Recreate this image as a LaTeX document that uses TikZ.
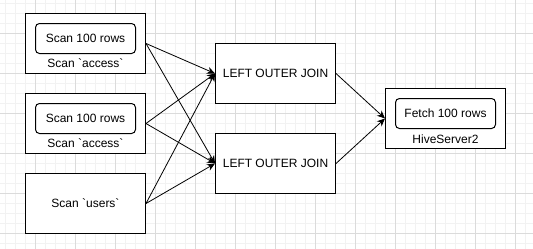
\documentclass[tikz,border=0pt]{standalone}
\usepackage{fontspec}
\setmainfont{Liberation Sans}[Ligatures=TeXOff]
\usetikzlibrary{arrows.meta}
\begin{document}
\begin{tikzpicture}[x=1pt,y=-1pt,
  box/.style={draw=black,line width=1pt,minimum width=120pt,minimum height=60pt,inner sep=0pt,fill=white},
  inbox/.style={draw=black,line width=1pt,rounded corners=4pt,minimum width=100pt,minimum height=30pt,inner sep=0pt,fill=white},
  lbl/.style={inner sep=0pt,font=\fontsize{12pt}{14pt}\selectfont},
  conn/.style={draw=black,line width=0.8pt,-{Stealth[length=8pt,width=7pt]}}]
\useasboundingbox (0,0) rectangle (533,249);
\fill[white] (0,0) rectangle (533,249);
% minor grid
\foreach \x in {5,15,...,525} \draw[color=black!5,line width=0.8pt] (\x,0) -- (\x,249);
\foreach \y in {3.5,13.5,...,243.5} \draw[color=black!5,line width=0.8pt] (0,\y) -- (533,\y);
% major grid
\foreach \x in {35,75,...,515} \draw[color=black!14,line width=0.8pt] (\x,0) -- (\x,249);
\foreach \y in {33.5,73.5,...,233.5} \draw[color=black!14,line width=0.8pt] (0,\y) -- (533,\y);

\node[box] (s1) at (85.5,43.5) {};
\node[inbox] (s1i) at (85.5,38.5) {};
\node[lbl] (s1t) at (85.5,38.5) {Scan 100 rows};
\node[lbl] (s1l) at (85.5,63.5) {Scan `access`};

\node[box] (s2) at (85.5,123.5) {};
\node[inbox] (s2i) at (85.5,118.5) {};
\node[lbl] (s2t) at (85.5,118.5) {Scan 100 rows};
\node[lbl] (s2l) at (85.5,143.5) {Scan `access`};

\node[box] (s3) at (85.5,203.5) {};
\node[lbl] (s3t) at (85.5,203.5) {Scan `users`};

\node[box] (j1) at (275.5,73.5) {};
\node[lbl] (j1t) at (275.5,73.5) {LEFT OUTER JOIN};
\node[box] (j2) at (275.5,163.5) {};
\node[lbl] (j2t) at (275.5,163.5) {LEFT OUTER JOIN};

\node[box] (h) at (445.5,118.5) {};
\node[inbox] (hi) at (445.5,113.5) {};
\node[lbl] (ht) at (445.5,113.5) {Fetch 100 rows};
\node[lbl] (hl) at (445.5,139.5) {HiveServer2};

\foreach \s in {s1,s2,s3} {
  \draw[conn] (\s.east) -- (j1.west);
  \draw[conn] (\s.east) -- (j2.west);
}
\draw[conn] (j1.east) -- (h.west);
\draw[conn] (j2.east) -- (h.west);
\end{tikzpicture}
\end{document}
